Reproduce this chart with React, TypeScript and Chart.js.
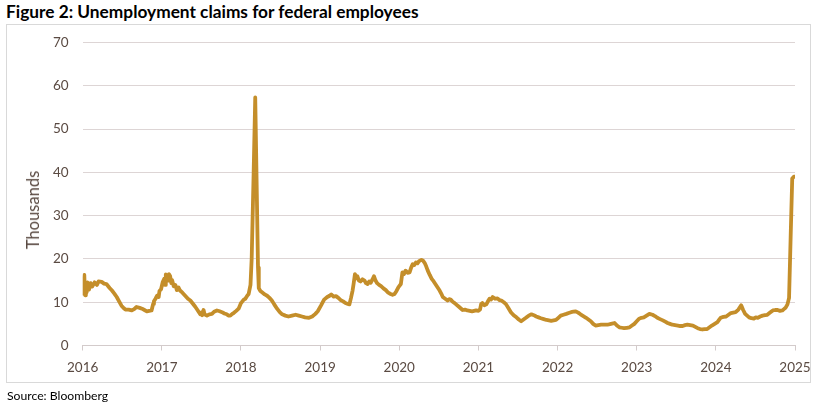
import React, { useEffect, useRef } from "react";
import { Chart, registerables } from "chart.js";

Chart.register(...registerables);

const TITLE = "Figure 2: Unemployment claims for federal employees";
const SOURCE = "Source: Bloomberg";
const Y_TITLE = "Thousands";
const LINE_COLOR = "#C48E2A";
const TEXT_COLOR = "#5A4A42";
const GRID_COLOR = "#DDD5D5";

// fractional year of each weekly observation
const weeks = [
  2016.00, 2016.01, 2016.02, 2016.03, 2016.04, 2016.05, 2016.06, 2016.08, 2016.10, 2016.12,
  2016.15, 2016.18, 2016.20, 2016.24, 2016.27, 2016.30, 2016.34, 2016.37, 2016.40, 2016.43,
  2016.46, 2016.49, 2016.52, 2016.54, 2016.58, 2016.62, 2016.65, 2016.68, 2016.72, 2016.75,
  2016.78, 2016.81, 2016.84, 2016.87, 2016.89, 2016.90, 2016.92, 2016.94, 2016.96, 2016.97,
  2016.99, 2017.01, 2017.03, 2017.04, 2017.05, 2017.06, 2017.08, 2017.09, 2017.105, 2017.12,
  2017.13, 2017.15, 2017.17, 2017.19, 2017.21, 2017.23, 2017.26, 2017.295, 2017.33, 2017.36,
  2017.39, 2017.42, 2017.45, 2017.485, 2017.50, 2017.51, 2017.527, 2017.54, 2017.57, 2017.60,
  2017.633, 2017.66, 2017.696, 2017.73, 2017.76, 2017.79, 2017.82, 2017.845, 2017.865, 2017.89,
  2017.907, 2017.94, 2017.97, 2018.00, 2018.01, 2018.035, 2018.055, 2018.075, 2018.097, 2018.12,
  2018.135, 2018.16, 2018.18, 2018.20, 2018.215, 2018.225, 2018.245, 2018.266, 2018.30, 2018.33,
  2018.36, 2018.39, 2018.42, 2018.456, 2018.49, 2018.52, 2018.56, 2018.60, 2018.645, 2018.69,
  2018.73, 2018.77, 2018.81, 2018.86, 2018.90, 2018.94, 2018.97, 2019.01, 2019.05, 2019.09,
  2019.12, 2019.14, 2019.17, 2019.20, 2019.23, 2019.26, 2019.29, 2019.32, 2019.35, 2019.37,
  2019.39, 2019.41, 2019.425, 2019.44, 2019.455, 2019.47, 2019.49, 2019.51, 2019.535, 2019.56,
  2019.58, 2019.60, 2019.62, 2019.64, 2019.66, 2019.68, 2019.70, 2019.72, 2019.745, 2019.77,
  2019.80, 2019.83, 2019.86, 2019.89, 2019.915, 2019.94, 2019.965, 2019.99, 2020.02, 2020.04,
  2020.06, 2020.08, 2020.105, 2020.13, 2020.15, 2020.17, 2020.19, 2020.21, 2020.23, 2020.25,
  2020.28, 2020.30, 2020.32, 2020.34, 2020.36, 2020.385, 2020.41, 2020.435, 2020.46, 2020.485,
  2020.51, 2020.53, 2020.55, 2020.58, 2020.61, 2020.63, 2020.65, 2020.675, 2020.70, 2020.725,
  2020.75, 2020.775, 2020.80, 2020.83, 2020.86, 2020.89, 2020.92, 2020.945, 2020.97, 2021.00,
  2021.02, 2021.035, 2021.05, 2021.075, 2021.10, 2021.12, 2021.14, 2021.16, 2021.18, 2021.21,
  2021.24, 2021.265, 2021.29, 2021.32, 2021.35, 2021.38, 2021.41, 2021.445, 2021.48, 2021.51,
  2021.54, 2021.57, 2021.60, 2021.635, 2021.67, 2021.70, 2021.73, 2021.76, 2021.79, 2021.825,
  2021.86, 2021.89, 2021.92, 2021.95, 2021.98, 2022.01, 2022.04, 2022.075, 2022.11, 2022.14,
  2022.17, 2022.20, 2022.23, 2022.26, 2022.29, 2022.325, 2022.36, 2022.39, 2022.42, 2022.45,
  2022.48, 2022.515, 2022.55, 2022.59, 2022.63, 2022.675, 2022.72, 2022.75, 2022.78, 2022.81,
  2022.84, 2022.875, 2022.91, 2022.94, 2022.97, 2023.00, 2023.03, 2023.06, 2023.09, 2023.125,
  2023.16, 2023.20, 2023.23, 2023.26, 2023.295, 2023.33, 2023.36, 2023.39, 2023.42, 2023.45,
  2023.485, 2023.52, 2023.55, 2023.58, 2023.61, 2023.64, 2023.675, 2023.71, 2023.74, 2023.77,
  2023.80, 2023.83, 2023.86, 2023.89, 2023.92, 2023.95, 2023.985, 2024.02, 2024.04, 2024.06,
  2024.095, 2024.13, 2024.16, 2024.19, 2024.22, 2024.25, 2024.285, 2024.32, 2024.345, 2024.37,
  2024.395, 2024.42, 2024.45, 2024.48, 2024.505, 2024.53, 2024.56, 2024.59, 2024.62, 2024.65,
  2024.685, 2024.72, 2024.75, 2024.78, 2024.81, 2024.84, 2024.86, 2024.88, 2024.905, 2024.925,
  2024.945, 2024.965, 2024.985, 2025.00,
];

// claims, thousands
const claims = [
  12.0, 15.2, 16.3, 11.6, 14.2, 12.3, 14.6, 12.9, 14.4, 13.6,
  14.6, 14.0, 14.8, 14.7, 14.3, 14.2, 13.3, 12.7, 12.0, 11.2,
  10.2, 9.2, 8.6, 8.3, 8.3, 8.1, 8.4, 8.9, 8.7, 8.5,
  8.2, 7.9, 8.0, 8.1, 9.6, 10.2, 10.8, 11.5, 11.2, 12.6,
  13.0, 14.6, 15.4, 14.0, 16.4, 16.2, 15.0, 16.5, 16.0, 14.4,
  15.1, 13.7, 14.0, 12.8, 13.4, 12.7, 12.2, 11.5, 10.8, 10.4,
  9.7, 9.0, 8.2, 7.2, 7.6, 7.0, 8.2, 7.2, 6.9, 7.2,
  7.3, 7.8, 8.1, 7.9, 7.7, 7.4, 7.2, 6.9, 6.9, 7.3,
  7.5, 8.0, 8.5, 9.8, 10.0, 10.6, 10.8, 11.4, 11.9, 14.0,
  20.0, 40.0, 57.3, 35.0, 18.0, 13.2, 12.6, 12.3, 11.8, 11.5,
  11.0, 10.4, 9.5, 8.5, 7.7, 7.2, 6.9, 6.7, 6.9, 7.1,
  6.9, 6.7, 6.5, 6.4, 6.7, 7.3, 7.9, 9.2, 10.6, 11.2,
  11.5, 11.8, 11.3, 11.4, 11.0, 10.5, 10.2, 9.8, 9.6, 9.5,
  11.0, 12.7, 14.5, 16.5, 15.5, 16.0, 15.0, 14.8, 15.3, 15.0,
  14.4, 14.2, 14.8, 14.5, 15.2, 16.0, 15.0, 14.4, 14.0, 13.7,
  13.2, 12.8, 12.2, 11.9, 11.7, 11.9, 12.6, 13.5, 14.2, 16.9,
  16.5, 17.3, 16.8, 16.9, 18.0, 18.8, 18.6, 19.2, 19.0, 19.5,
  19.8, 19.6, 19.1, 18.3, 17.3, 16.3, 15.4, 14.8, 14.1, 13.4,
  12.7, 12.0, 11.2, 10.8, 10.4, 10.7, 10.6, 10.1, 9.8, 9.4,
  9.0, 8.6, 8.2, 8.3, 8.1, 8.0, 7.9, 8.0, 8.1, 8.0,
  8.3, 9.6, 9.8, 9.3, 9.5, 10.2, 10.8, 10.6, 11.2, 10.8,
  10.9, 10.5, 10.4, 10.0, 9.5, 8.6, 7.7, 7.0, 6.5, 6.0,
  5.6, 6.0, 6.4, 6.9, 7.2, 7.0, 6.7, 6.5, 6.3, 6.1,
  5.9, 5.8, 5.7, 5.8, 5.9, 6.4, 6.9, 7.1, 7.3, 7.5,
  7.7, 7.8, 7.9, 7.6, 7.2, 6.8, 6.4, 6.0, 5.6, 5.0,
  4.6, 4.7, 4.8, 4.8, 4.8, 5.0, 5.2, 4.6, 4.2, 4.1,
  4.0, 4.1, 4.2, 4.6, 5.0, 5.6, 6.2, 6.4, 6.5, 6.9,
  7.3, 7.1, 6.8, 6.4, 6.1, 5.8, 5.5, 5.2, 5.0, 4.8,
  4.7, 4.6, 4.5, 4.5, 4.7, 4.8, 4.7, 4.6, 4.3, 4.0,
  3.8, 3.7, 3.8, 3.8, 4.2, 4.6, 5.0, 5.4, 5.9, 6.4,
  6.6, 6.7, 7.1, 7.5, 7.6, 7.7, 8.3, 9.3, 8.2, 7.3,
  6.9, 6.5, 6.3, 6.2, 6.5, 6.4, 6.7, 6.9, 7.0, 7.1,
  7.6, 8.1, 8.2, 8.2, 8.0, 8.1, 8.4, 8.7, 9.5, 11.0,
  25.0, 38.6, 39.0, 39.0,
];

const yTicks = [0, 10, 20, 30, 40, 50, 60, 70];
const xTicks = [2016, 2017, 2018, 2019, 2020, 2021, 2022, 2023, 2024, 2025];

export default function App() {
  const canvasRef = useRef<HTMLCanvasElement | null>(null);

  useEffect(() => {
    const canvas = canvasRef.current;
    if (!canvas) return;
    const n = Math.min(weeks.length, claims.length);
    const points = [] as { x: number; y: number }[];
    for (let i = 0; i < n; i++) points.push({ x: weeks[i], y: claims[i] });

    const chart = new Chart(canvas, {
      type: "line",
      data: {
        datasets: [
          {
            label: "Federal employee unemployment claims",
            data: points,
            borderColor: LINE_COLOR,
            backgroundColor: LINE_COLOR,
            borderWidth: 3.8,
            pointRadius: 0,
            tension: 0,
            borderJoinStyle: "round",
            borderCapStyle: "round",
          },
        ],
      },
      options: {
        animation: false,
        responsive: false,
        maintainAspectRatio: false,
        layout: { padding: { left: 0, right: 26, top: 42.5, bottom: 25 } },
        plugins: { legend: { display: false }, tooltip: { enabled: false } },
        scales: {
          x: {
            type: "linear",
            min: xTicks[0],
            max: xTicks[xTicks.length - 1],
            afterBuildTicks: (s: any) => {
              s.ticks = xTicks.map((v) => ({ value: v }));
            },
            afterFit: (s: any) => {
              s.height = 38.5;
            },
            ticks: {
              callback: (v: any) => String(v),
              color: TEXT_COLOR,
              font: { family: "Lato", size: 13.5 },
              padding: 9,
              maxRotation: 0,
              autoSkip: false,
            },
            grid: {
              drawOnChartArea: false,
              drawTicks: true,
              tickLength: 5,
              color: "#D3CBCB",
            },
            border: { display: true, color: "#D3CBCB", width: 1 },
          },
          y: {
            min: 0,
            max: 70,
            afterBuildTicks: (s: any) => {
              s.ticks = yTicks.map((v) => ({ value: v }));
            },
            afterFit: (s: any) => {
              s.width = 82.7;
            },
            ticks: {
              color: TEXT_COLOR,
              font: { family: "Lato", size: 13.5 },
              padding: 14,
            },
            grid: { color: GRID_COLOR, drawTicks: false },
            border: { display: false },
          },
        },
      },
    });
    return () => chart.destroy();
  }, []);

  return (
    <div
      style={{
        position: "absolute",
        left: 0,
        top: 0,
        width: 821,
        height: 409,
        background: "#fff",
        overflow: "hidden",
      }}
    >
      <div
        style={{
          position: "absolute",
          left: 6,
          top: 1,
          fontFamily: "Lato",
          fontWeight: 700,
          fontSize: 17.3,
          color: "#000",
          whiteSpace: "nowrap",
          lineHeight: "22px",
        }}
      >
        {TITLE}
      </div>
      <div
        style={{
          position: "absolute",
          left: 6,
          top: 24,
          width: 805,
          height: 359,
          border: "1px solid #D9D9D9",
          boxSizing: "border-box",
        }}
      />
      <canvas
        ref={canvasRef}
        width={821}
        height={409}
        style={{ position: "absolute", left: 0, top: 0, width: 821, height: 409 }}
      />
      <div
        style={{
          position: "absolute",
          left: 33,
          top: 210,
          transform: "translate(-50%, -50%) rotate(-90deg)",
          fontFamily: "Lato",
          fontWeight: 400,
          fontSize: 16.5,
          color: TEXT_COLOR,
          whiteSpace: "nowrap",
          lineHeight: "18px",
        }}
      >
        {Y_TITLE}
      </div>
      <div
        style={{
          position: "absolute",
          left: 7,
          top: 388,
          fontFamily: "Lato",
          fontSize: 12.2,
          color: "#000",
          whiteSpace: "nowrap",
          lineHeight: "16px",
        }}
      >
        {SOURCE}
      </div>
    </div>
  );
}
